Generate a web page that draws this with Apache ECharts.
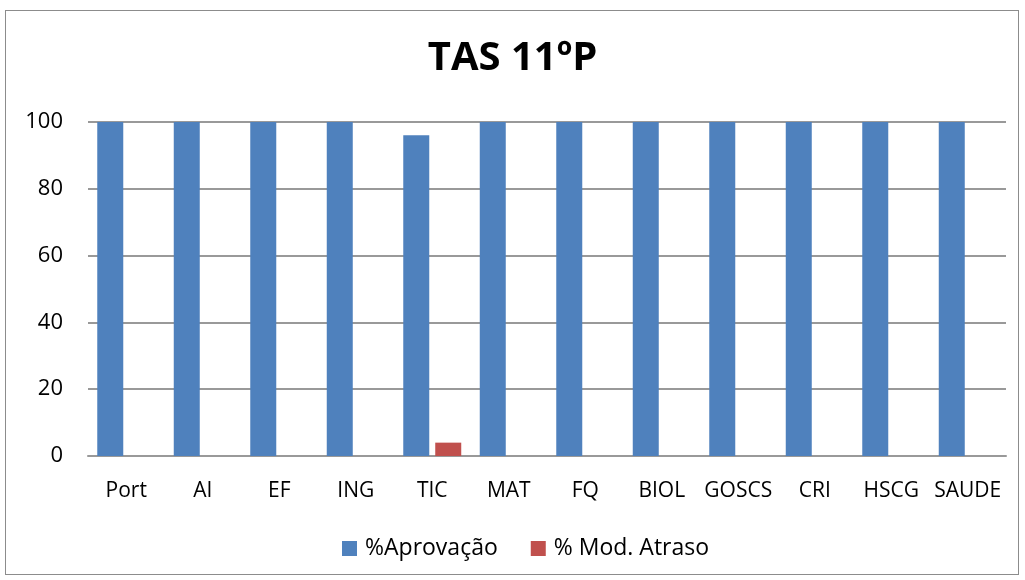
<!DOCTYPE html>
<html>
<head>
<meta charset="utf-8">
<script src="https://cdn.jsdelivr.net/npm/echarts@6/dist/echarts.min.js"></script>
<style>
  html, body { margin: 0; padding: 0; background: #fff; }
  #frame { position: absolute; left: 5px; top: 10px; width: 1014px; height: 565px; border: 1px solid #8c8c8c; box-sizing: border-box; }
  #myChart { width: 1025px; height: 580px; }
</style>
</head>
<body>
<div id="frame"></div>
<div id="myChart"></div>
<script>
// disciplinas
var categories = ['Port', 'AI', 'EF', 'ING', 'TIC', 'MAT', 'FQ', 'BIOL', 'GOSCS', 'CRI', 'HSCG', 'SAUDE'];
// valores
var aprovacao = [100, 100, 100, 100, 96, 100, 100, 100, 100, 100, 100, 100];
var modAtraso = [0, 0, 0, 0, 4, 0, 0, 0, 0, 0, 0, 0];

var myChart = echarts.init(document.getElementById('myChart'));
var fonte = 'Open Sans, Lato, sans-serif';

var option = {
    animation: false,
    title: {
        text: 'TAS 11ºP',
        left: 'center',
        top: 34,
        textStyle: { fontFamily: fonte, fontSize: 40, fontWeight: 'bold', color: '#000' }
    },
    legend: {
        bottom: 15,
        left: 337,
        itemWidth: 15,
        itemHeight: 15,
        itemGap: 33,
        icon: 'rect',
        textStyle: { fontFamily: fonte, fontSize: 23, color: '#000', padding: [0, 0, 0, 3] },
        data: ['%Aprovação', '% Mod. Atraso']
    },
    grid: {
        left: 88,
        right: 19,
        top: 122,
        bottom: 124
    },
    xAxis: {
        type: 'category',
        data: categories,
        axisLine: { lineStyle: { color: '#999', width: 2 } },
        axisTick: { show: false },
        axisLabel: { fontFamily: fonte, fontSize: 21, color: '#000', margin: 25, interval: 0 }
    },
    yAxis: {
        type: 'value',
        min: 0,
        max: 100,
        interval: 20,
        axisLine: { show: false },
        axisTick: { show: false },
        splitLine: { lineStyle: { color: '#999', width: 2 } },
        axisLabel: { fontFamily: fonte, fontSize: 22, color: '#000', margin: 25 }
    },
    series: [
        {
            name: '%Aprovação',
            type: 'bar',
            data: aprovacao,
            barWidth: 26,
            barGap: '23%',
            itemStyle: { color: '#4F81BD' }
        },
        {
            name: '% Mod. Atraso',
            type: 'bar',
            data: modAtraso,
            barWidth: 26,
            itemStyle: { color: '#C0504D' }
        }
    ]
};
myChart.setOption(option);
</script>
</body>
</html>
